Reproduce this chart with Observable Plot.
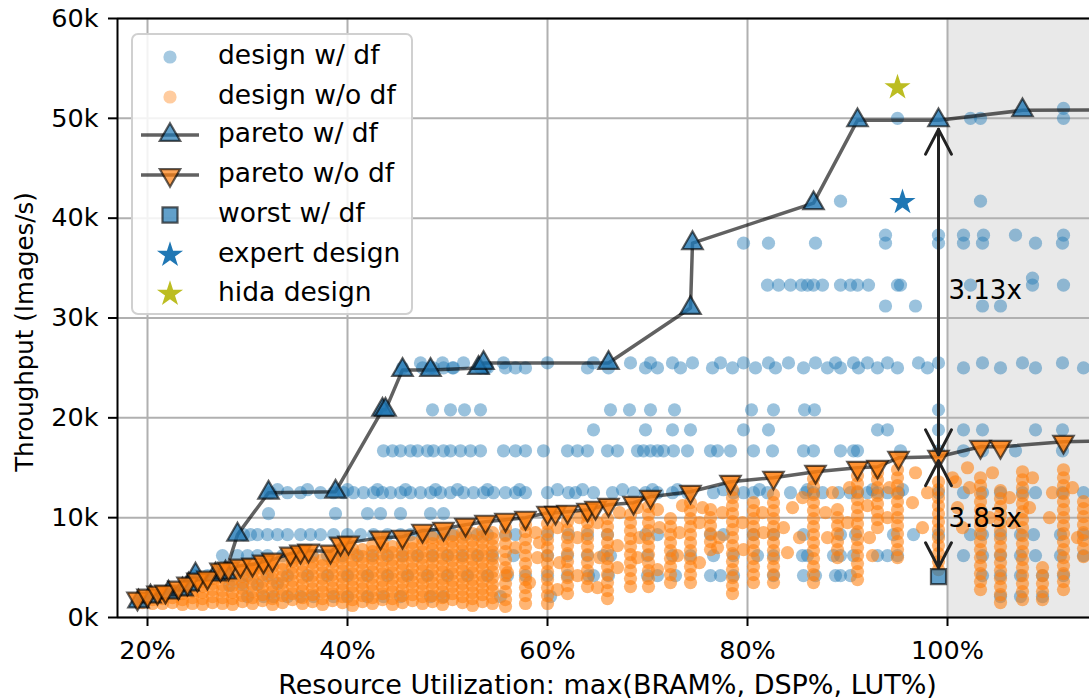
<!DOCTYPE html>
<html><head><meta charset="utf-8">
<script src="https://cdn.jsdelivr.net/npm/d3@7"></script>
<script src="https://cdn.jsdelivr.net/npm/@observablehq/plot@0.6"></script>
<style>
body{margin:0;background:#fff;font-family:"DejaVu Sans",sans-serif;}
#wrap{position:relative;width:1089px;height:698px;overflow:hidden;}
#legend{position:absolute;left:131px;top:33px;width:282px;height:282px;border:2px solid #d0d0d0;border-radius:7px;background:rgba(255,255,255,0.85);box-sizing:border-box;}
#legend .row{position:absolute;left:85px;font-size:26.5px;line-height:30px;height:30px;color:#000;white-space:nowrap;}
#legend svg{position:absolute;left:0;top:0;}
</style></head><body><div id="wrap"></div>
<script>
// ---------- data (x = resource utilisation %, y = throughput in k images/s) ----------
const xTicks = [20, 40, 60, 80, 100];
const yTicks = [0, 10, 20, 30, 40, 50, 60];
const xDomain = [17, 114.2];
const shadeStart = [100];

// blue "design w/ df": rows [throughput, [utilisations]]
const blueRows = [
  [2.1, [30, 31.6, 32.6, 34, 35.3, 36.6, 38.6, 40, 42, 43.6, 45.3, 48.3, 49.6, 55.3, 60.3, 105.3, 107.3, 109.5]],
  [4.2, [26, 27, 28.5, 30, 32, 34, 36, 38, 40, 42, 44, 46, 48, 50, 52, 54, 56, 57.8, 60, 62, 64.1, 64.6, 66.1, 70, 71, 72.8, 76.3, 77.3, 78.6, 82.6, 85.6, 86.8, 88.8, 89.3, 90.3, 103.5, 105.3, 107.3, 109.5, 111.6]],
  [6.2, [27.5, 29, 30, 31, 32, 33.5, 35, 36.5, 38, 39.5, 41, 42.5, 44, 45.5, 47, 48.5, 50, 51.5, 53, 54.5, 56.6, 60, 62, 64, 65.6, 66.3, 70, 72.5, 74.3, 76.6, 78.6, 81, 82.6, 85.5, 86, 88.6, 89.3, 90.6, 93, 94, 95, 101.6, 103.5, 105.3, 107.3, 108.8, 111.3, 113.6]],
  [8.3, [29.6, 30.3, 31, 32, 33, 34, 35.3, 36.3, 37.3, 38.6, 40, 41.3, 42.6, 44, 45.3, 46.3, 47.5, 48.6, 49.6, 50.6, 51.8, 53, 54, 55.8, 56.8, 60, 62.1, 64, 66, 69.8, 71, 76.3, 77.6, 80.6, 82.6, 85.6, 89.3, 90.8, 94.6, 96.6, 99.1, 102.3, 103.5, 105.3, 107.3, 108.6, 111.3, 113.6]],
  [10.4, [32.1, 38.8, 42.0, 43.3, 45.3, 48.3, 49.6]],
  [12.5, [32.3, 34.0, 35.3, 37.3, 38.6, 39.6, 40.6, 41.6, 42.6, 43.5, 44.3, 45.3, 46.3, 47.3, 48.3, 49.3, 50.3, 51.6, 52.6, 53.6, 54.6, 55.8, 56.8, 57.8, 60.0, 62.1, 62.8, 64.6, 66.5, 68.6, 69.8, 71.0, 72.5, 74.0, 76.6, 78.6, 79.6, 80.6, 82.0, 84.3, 85.8, 86.6, 87.5, 89.1, 90.3, 91.0, 92.0, 93.0, 94.0, 95.1, 99.1, 101.6, 103.5, 105.3, 107.5, 108.8, 111.5, 113.6]],
  [12.8, [33.0, 36.0, 40.0, 43.0, 45.8, 48.8, 51.0, 54.0, 57.2, 61.0, 63.5, 67.5, 70.5, 73.0, 77.6, 81.2, 86.0, 92.5, 95.5]],
  [16.7, [43.6, 44.5, 45.3, 46.3, 47.0, 48.0, 48.6, 49.6, 50.3, 51.3, 52.3, 53.3, 55.6, 56.8, 57.8, 59.6, 62.0, 63.0, 64.0, 66.0, 67.0, 69.0, 69.6, 70.3, 71.0, 71.6, 72.6, 74.0, 76.3, 77.0, 78.3, 80.6, 82.5, 85.6, 86.6, 89.3, 90.6, 91.0, 95.3, 99.1, 101.6, 103.5, 106.8, 111.5]],
  [18.8, [64.6, 69.8, 72.5, 74.3, 79.6, 82.1, 93.0, 94.0, 99.1, 101.6, 103.5, 108.8, 111.5]],
  [20.8, [48.5, 50.3, 51.7, 53.3, 66.3, 68.2, 70.3, 72.7, 80.4, 82.6, 85.7, 86.7, 99.1]],
  [25.0, [45.5, 47.5, 48.3, 48.6, 49.6, 50.5, 50.6, 53.3, 53.8, 54.0, 55.8, 56.8, 57.8, 64.0, 66.1, 69.8, 71.0, 73.3, 76.5, 78.5, 80.8, 82.8, 85.6, 88.0, 89.3, 91.1, 93.0, 95.0, 98.0, 101.6, 105.3, 108.8, 113.6]],
  [25.5, [47.3, 49.5, 51.6, 55.6, 60.0, 64.6, 68.3, 70.3, 72.5, 74.5, 77.3, 79.6, 82.1, 84.1, 86.8, 88.8, 90.6, 92.0, 94.0, 97.1, 99.1, 103.5, 107.5, 111.5]],
  [31.2, [93.8, 96.8, 103.5, 105.3]],
  [33.3, [82.0, 83.1, 84.3, 85.4, 86.0, 86.6, 87.5, 89.3, 90.3, 91.0, 92.1, 95.0, 95.3, 102.3, 108.5, 111.6]],
  [34.0, [108.5]],
  [37.5, [79.6, 82.1, 86.8, 93.8, 99.1, 101.6, 103.5, 108.8, 111.5]],
  [38.3, [93.8, 99.1, 101.6, 103.6, 106.8, 111.6]],
  [41.7, [89.3, 103.3]],
  [50.0, [95.0, 102.3, 103.3, 111.6]],
  [51.0, [111.6]]
];
const blueExtra = [[19.1, 1.6], [20.3, 2.1], [21.2, 2.3], [22.1, 2.5], [23.5, 2.8], [24.1, 3.3], [24.8, 4.2], [25.8, 3.8], [27.8, 4.5], [28.2, 3.2], [29.5, 3.3], [31, 3.3], [33, 3.4]];

// orange "design w/o df": columns [utilisation, [throughputs]]
const orangeCols = [
  [19.5, [1.5, 1.8]], [20.5, [1.4, 1.8, 2.1]], [21.5, [1.4, 1.9, 2.3]], [22.5, [1.5, 2.0, 2.5]],
  [23.5, [1.3, 1.8, 2.4, 2.8]], [24.5, [1.4, 2.0, 2.6, 3.2]], [25.5, [1.3, 1.9, 2.5, 3.1, 3.6]],
  [26.5, [1.5, 2.1, 2.8, 3.4, 3.9]], [27.5, [1.4, 2.0, 2.7, 3.3, 4.0, 4.5]], [28.5, [1.3, 1.9, 2.5, 3.2, 3.8, 4.4]],
  [29.5, [1.6, 2.2, 2.9, 3.5, 4.1, 4.7]], [30.5, [1.4, 2.0, 2.6, 3.3, 3.9, 4.5, 4.9]],
  [31.5, [1.7, 2.3, 3.0, 3.6, 4.3, 4.9, 5.2]], [32.5, [1.3, 1.9, 2.6, 3.2, 3.9, 4.5, 5.1]],
  [33.5, [1.5, 2.2, 2.8, 3.5, 4.1, 4.8, 5.4]], [34.5, [1.8, 2.4, 3.1, 3.7, 4.4, 5.0, 5.6, 6.0]],
  [35.5, [1.4, 2.0, 2.7, 3.3, 4.0, 4.6, 5.3, 5.9]], [36.5, [1.6, 2.3, 2.9, 3.6, 4.2, 4.9, 5.5, 6.1]],
  [37.5, [1.3, 1.9, 2.6, 3.2, 3.9, 4.5, 5.2, 5.8]], [38.5, [1.7, 2.4, 3.0, 3.7, 4.3, 5.0, 5.6, 6.1]],
  [39.5, [1.5, 2.1, 2.8, 3.4, 4.1, 4.7, 5.4, 6.0, 6.6]], [40.5, [1.2, 1.8, 2.5, 3.1, 3.8, 4.4, 5.1, 5.7, 6.4, 6.9]],
  [41.5, [1.6, 2.2, 2.9, 3.5, 4.2, 4.8, 5.5, 6.1, 6.8]], [42.5, [1.4, 2.0, 2.7, 3.3, 4.0, 4.6, 5.3, 5.9, 6.6, 7.2]],
  [43.5, [1.8, 2.4, 3.1, 3.7, 4.4, 5.0, 5.7, 6.3, 7.0, 7.4]], [44.5, [1.3, 1.9, 2.6, 3.2, 3.9, 4.5, 5.2, 5.8, 6.5, 7.1]],
  [45.5, [1.5, 2.2, 2.8, 3.5, 4.1, 4.8, 5.4, 6.1, 6.7, 7.4]], [46.5, [1.7, 2.3, 3.0, 3.6, 4.3, 4.9, 5.6, 6.2, 6.9, 7.5]],
  [47.5, [1.4, 2.1, 2.7, 3.4, 4.0, 4.7, 5.3, 6.0, 6.6, 7.3, 7.9]], [48.5, [1.6, 2.2, 2.9, 3.5, 4.2, 4.8, 5.5, 6.1, 6.8, 7.4, 8.0]],
  [49.5, [1.3, 2.0, 2.6, 3.3, 3.9, 4.6, 5.2, 5.9, 6.5, 7.2, 7.8]], [50.5, [1.8, 2.4, 3.1, 3.7, 4.4, 5.0, 5.7, 6.3, 7.0, 7.6, 8.2]],
  [51.5, [1.5, 2.1, 2.8, 3.4, 4.1, 4.7, 5.4, 6.0, 6.7, 7.3, 8.0, 8.5]], [52.5, [1.2, 1.9, 2.5, 3.2, 3.8, 4.5, 5.1, 5.8, 6.4, 7.1, 7.7, 8.4]],
  [53.5, [1.6, 2.3, 2.9, 3.6, 4.2, 4.9, 5.5, 6.2, 6.8, 7.5, 8.1, 8.7]], [54.5, [1.4, 2.0, 2.7, 3.3, 4.0, 4.6, 5.3, 5.9, 6.6, 7.2, 7.9, 8.5]],
  [55.8, [1.1, 1.8, 2.6, 3.4, 4.2, 5.0, 5.8, 6.6, 7.4, 8.2, 9.0]],
  [57.8, [1.4, 2.2, 3.0, 3.8, 4.6, 5.4, 6.2, 7.0, 7.8, 8.6, 9.3]],
  [60.0, [1.4, 2.2, 3.0, 3.8, 4.6, 5.4, 6.2, 7.0, 7.8, 8.6, 9.4]],
  [62.0, [2.4, 3.2, 4.0, 4.8, 5.6, 6.4, 7.2, 8.0, 8.8, 9.6]],
  [64.0, [3.1, 3.9, 4.7, 5.5, 6.3, 7.1, 7.9, 8.7, 9.5, 10.2]],
  [66.0, [1.9, 2.7, 3.5, 4.3, 5.1, 5.9, 6.7, 7.5, 8.3, 9.1, 9.9]],
  [68.3, [3.1, 3.9, 4.7, 5.5, 6.3, 7.1, 7.9, 8.7, 9.5, 10.3]],
  [70.1, [3.1, 3.9, 4.7, 5.5, 6.3, 7.1, 7.9, 8.7, 9.5, 10.3, 11.1]],
  [72.3, [3.5, 4.3, 5.1, 5.9, 6.7, 7.5, 8.3, 9.1, 9.9]],
  [74.3, [3.5, 4.3, 5.1, 5.9, 6.7, 7.5, 8.3, 9.1, 9.9, 10.7, 11.5]],
  [76.3, [6.8, 7.6, 8.4, 9.2, 10.0, 10.8]],
  [78.5, [2.4, 3.2, 4.0, 4.8, 5.6, 6.4, 7.2, 8.0, 8.8, 9.6, 10.4, 11.2, 12.0, 12.8]],
  [80.6, [3.5, 4.3, 5.1, 5.9, 6.7, 7.5, 8.3, 9.1, 9.9, 10.7, 11.5]],
  [82.6, [3.5, 4.3, 5.1, 5.9, 6.7, 7.5, 8.3, 9.1, 9.9, 10.7, 11.5, 12.3]],
  [86.6, [3.5, 4.3, 5.1, 5.9, 6.7, 7.5, 8.3, 9.1, 9.9, 10.7, 11.5, 12.3, 13.1, 13.9]],
  [89.0, [6.0, 6.8, 7.6, 8.4, 9.2, 10.0, 10.8]],
  [91.0, [3.8, 4.6, 5.4, 6.2, 7.0, 7.8, 8.6, 9.4, 10.2, 11.0, 11.8, 12.6, 13.4, 14.2]],
  [93.0, [9.0, 9.8, 10.6, 11.4, 12.2, 13.0, 13.8, 14.5]],
  [95.0, [6.0, 6.8, 7.6, 8.4, 9.2, 10.0, 10.8, 11.6, 12.4, 13.2, 14.0, 14.8]],
  [99.1, [4.8, 5.6, 6.4, 7.2, 8.0, 8.8, 9.6, 10.4, 11.2, 12.0, 12.8, 13.6]],
  [103.3, [2.8, 3.6, 4.4, 5.2, 6.0, 6.8, 7.6, 8.4, 9.2, 10.0, 10.8, 11.6, 12.4, 13.2, 14.0]],
  [105.3, [1.5, 2.3, 3.1, 3.9, 4.7, 5.5, 6.3, 7.1, 7.9, 8.7, 9.5, 10.3, 11.1, 11.9, 12.7]],
  [107.5, [1.8, 2.6, 3.4, 4.2, 5.0, 5.8, 6.6, 7.4, 8.2, 9.0, 9.8, 10.6, 11.4, 12.2, 13.0, 13.8, 14.6]],
  [109.5, [1.8, 2.6, 3.4, 4.2, 5.0]],
  [111.6, [2.8, 3.6, 4.4, 5.2, 6.0, 6.8, 7.6, 8.4, 9.2, 10.0, 10.8, 11.6, 12.4, 13.2, 14.0, 14.8]],
  [113.6, [6.1, 6.9, 7.7, 8.5, 9.3, 10.1, 10.9, 11.6]]
];
const orangeExtra = [[56.8, 7.0], [58.8, 8.5], [59, 6.0], [61, 9.0], [61.2, 5.5], [63, 8.0], [63.2, 10.0], [65, 9.5], [65.2, 6.0], [67.2, 10.5], [67, 7.2], [69.2, 8.0], [69, 11.0], [71.2, 9.0], [71, 10.8], [73.2, 8.5], [73.5, 11.2], [75.2, 9.5], [75.5, 11.0], [77.2, 8.0], [77.5, 10.5], [79.5, 9.5], [81.6, 8.5], [81.5, 10.5], [83.6, 9.0], [84.5, 11.0], [85.2, 8.0], [85.5, 12.0], [87.8, 10.5], [88.5, 12.5], [90, 9.5], [90.2, 13.0], [92, 11.2], [92.2, 8.0], [94, 10.0], [94.2, 13.0], [96.5, 11.5], [96.8, 14.5], [97.5, 9.0], [98, 12.5], [100.5, 14.0], [101, 11.0], [101.5, 9.0], [102.2, 13.0], [104.2, 10.0], [104.5, 14.5], [106.2, 12.0], [106.5, 9.5], [108.2, 11.0], [108.5, 14.0], [110.2, 10.0], [110.5, 12.5], [112.5, 13.0], [113, 8.0], [100.8, 13.6], [102, 15.0],
  [56.0, 4.5], [58.2, 3.5], [59.2, 7.5], [61.0, 2.8], [63.0, 4.2], [65.0, 3.0], [67.0, 5.0], [69.0, 6.0], [71.0, 4.8], [73.0, 6.2], [75.2, 5.5], [77.0, 7.0], [79.6, 6.8], [84.0, 6.5], [88.0, 8.0], [92.5, 6.2]];

// pareto fronts
const paretoDfX = [19.1, 20.3, 22.1, 23.5, 24.1, 24.8, 26.8, 27.8, 29.0, 32.1, 38.8, 43.5, 43.8, 45.5, 48.3, 53.1, 53.6, 66.1, 74.3, 74.5, 86.6, 91.0, 99.1, 107.5, 125];
const paretoDfY = [1.6, 2.1, 2.5, 2.8, 3.3, 4.3, 4.3, 4.5, 8.3, 12.5, 12.6, 20.8, 20.8, 24.8, 24.8, 25.0, 25.5, 25.5, 31.0, 37.5, 41.5, 49.8, 49.8, 50.8, 50.9];
const paretoNoDfX = [19.0, 20.0, 21.0, 21.8, 23.1, 24.0, 25.0, 26.0, 27.3, 28.1, 29.3, 30.5, 31.6, 32.5, 34.3, 35.3, 36.1, 38.3, 39.3, 40.1, 43.3, 45.5, 47.5, 49.6, 51.8, 53.8, 55.8, 57.8, 60.0, 60.8, 62.0, 64.0, 64.8, 66.1, 68.6, 70.3, 74.3, 78.3, 82.6, 86.8, 91.0, 93.0, 95.1, 99.1, 103.3, 105.3, 111.6, 125];
const paretoNoDfY = [1.9, 2.2, 2.5, 2.6, 3.0, 3.4, 3.8, 4.0, 4.8, 4.9, 5.2, 5.3, 5.6, 5.8, 6.4, 6.6, 6.7, 6.6, 7.4, 7.5, 8.0, 8.1, 8.7, 8.9, 9.3, 9.6, 9.8, 10.0, 10.5, 10.5, 10.6, 10.8, 11.0, 11.3, 11.5, 12.1, 12.6, 13.6, 14.0, 14.6, 15.0, 15.1, 16.0, 16.1, 17.1, 17.1, 17.6, 17.9];
const worstDf = [[99.1, 4.1]];
const expertDesign = [[95.5, 41.6]];
const hidaDesign = [[95.0, 53.1]];
const ratioLabels = [[100.1, 32.7, "3.13x"], [100.1, 9.9, "3.83x"]];
const xLabel = "Resource Utilization: max(BRAM%, DSP%, LUT%)";
const yLabel = "Throughput (Images/s)";
const legendLabels = ["design w/ df", "design w/o df", "pareto w/ df", "pareto w/o df", "worst w/ df", "expert design", "hida design"];

// ---------- build ----------
const blue = blueRows.flatMap(([y, xs]) => xs.map(x => ({x, y}))).concat(blueExtra.map(([x, y]) => ({x, y})));
const orange = orangeCols.flatMap(([x, ys]) => ys.map(y => ({x, y}))).concat(orangeExtra.map(([x, y]) => ({x, y})));
const pDf = paretoDfX.map((x, i) => ({x, y: paretoDfY[i]}));
const pNo = paretoNoDfX.map((x, i) => ({x, y: paretoNoDfY[i]}));
const pt = ([x, y]) => ({x, y});
const ax = worstDf[0][0];
const yTop = pDf.find(d => d.x === ax).y;
const yMid = pNo.find(d => d.x === ax).y;
const yLow = worstDf[0][1];

const C_BLUE = "#1f77b4", C_ORANGE = "#ff7f0e", C_OLIVE = "#bcbd22";
const arrowStyle = {stroke: "#222", strokeWidth: 3, headLength: 14, headAngle: 55};
const R_DOT = 6.6, R_TRI = 7.6;

const plot = Plot.plot({
  width: 1089, height: 698,
  marginLeft: 117, marginRight: 0, marginTop: 18, marginBottom: 81,
  style: {fontFamily: '"DejaVu Sans", sans-serif', fontSize: "25px", color: "#000", background: "#fff", overflow: "hidden"},
  x: {domain: xDomain, label: null},
  y: {domain: [0, 60], label: null},
  marks: [
    Plot.rect(shadeStart, {x1: d => d, x2: xDomain[1], y1: 0, y2: 60, fill: "#e9e9e9"}),
    Plot.gridX(xTicks, {stroke: "#b0b0b0", strokeOpacity: 1, strokeWidth: 2}),
    Plot.gridY(yTicks, {stroke: "#b0b0b0", strokeOpacity: 1, strokeWidth: 2}),
    Plot.dot(blue, {x: "x", y: "y", r: R_DOT, fill: C_BLUE, fillOpacity: 0.45, clip: true}),
    Plot.dot(orange, {x: "x", y: "y", r: R_DOT, fill: C_ORANGE, fillOpacity: 0.58, clip: true}),
    Plot.line(pDf, {x: "x", y: "y", stroke: "#000", strokeOpacity: 0.62, strokeWidth: 3.5, clip: true}),
    Plot.line(pNo, {x: "x", y: "y", stroke: "#000", strokeOpacity: 0.62, strokeWidth: 3.5, clip: true}),
    Plot.dot(pDf, {x: "x", y: "y", symbol: "triangle", r: R_TRI, fill: C_BLUE, fillOpacity: 0.8, stroke: "#000", strokeOpacity: 0.62, strokeWidth: 2.2, clip: true}),
    Plot.dot(pNo, {x: "x", y: "y", symbol: "triangle", rotate: 180, r: R_TRI, fill: C_ORANGE, fillOpacity: 0.85, stroke: "#000", strokeOpacity: 0.62, strokeWidth: 2.2, clip: true}),
    Plot.dot(worstDf.map(pt), {x: "x", y: "y", symbol: "square", r: 8.5, fill: C_BLUE, fillOpacity: 0.7, stroke: "#000", strokeOpacity: 0.62, strokeWidth: 2.2}),
    Plot.dot(expertDesign.map(pt), {x: "x", y: "y", symbol: "star", r: 8.2, fill: C_BLUE}),
    Plot.dot(hidaDesign.map(pt), {x: "x", y: "y", symbol: "star", r: 8.2, fill: C_OLIVE}),
    Plot.arrow([0], {x1: ax, x2: ax, y1: yMid, y2: yTop, insetEnd: 9, insetStart: 2, ...arrowStyle}),
    Plot.arrow([0], {x1: ax, x2: ax, y1: yTop, y2: yMid, insetEnd: 2, insetStart: 9, ...arrowStyle}),
    Plot.arrow([0], {x1: ax, x2: ax, y1: yLow, y2: yMid, insetEnd: 4, insetStart: 9, ...arrowStyle}),
    Plot.arrow([0], {x1: ax, x2: ax, y1: yMid, y2: yLow, insetEnd: 9, insetStart: 4, ...arrowStyle}),
    Plot.text(ratioLabels, {x: d => d[0], y: d => d[1], text: d => d[2], textAnchor: "start", fontSize: 26, fill: "#000"}),
    Plot.ruleX([xDomain[0]], {stroke: "#000", strokeWidth: 2}),
    Plot.ruleY([0, 60], {stroke: "#000", strokeWidth: 2}),
    Plot.axisX(xTicks, {tickSize: 9, tickPadding: 14, strokeWidth: 2, tickFormat: d => d + "%", fontSize: 25.5, label: null}),
    Plot.axisY(yTicks, {tickSize: 9, tickPadding: 10, strokeWidth: 2, tickFormat: d => d + "k", fontSize: 25.5, label: null}),
    Plot.text([xLabel], {frameAnchor: "bottom", dy: 76, dx: 4, text: d => d, fontSize: 27}),
    Plot.text([yLabel], {frameAnchor: "left", textAnchor: "middle", dx: -92, dy: 14, rotate: -90, text: d => d, fontSize: 24.5})
  ]
});
const wrap = document.getElementById("wrap");
wrap.appendChild(plot);

// ---------- legend ----------
const lg = document.createElement("div");
lg.id = "legend";
wrap.appendChild(lg);
const rowY = [22, 62, 100, 140, 180, 220, 259];
const sv = d3.select(lg).append("svg").attr("width", 90).attr("height", 280);
const sym = (type, r) => d3.symbol(type, Math.PI * r * r)();
const mx = 37;
sv.append("circle").attr("cx", mx).attr("cy", rowY[0]).attr("r", R_DOT).attr("fill", C_BLUE).attr("fill-opacity", 0.4);
sv.append("circle").attr("cx", mx).attr("cy", rowY[1]).attr("r", R_DOT).attr("fill", C_ORANGE).attr("fill-opacity", 0.4);
[[2, C_BLUE, 0], [3, C_ORANGE, 180]].forEach(([i, c, rot]) => {
  sv.append("line").attr("x1", 8).attr("x2", 66).attr("y1", rowY[i]).attr("y2", rowY[i]).attr("stroke", "#000").attr("stroke-opacity", 0.62).attr("stroke-width", 3.5);
  sv.append("path").attr("d", sym(d3.symbolTriangle, R_TRI)).attr("transform", `translate(${mx},${rowY[i]}) rotate(${rot})`)
    .attr("fill", c).attr("fill-opacity", 0.7).attr("stroke", "#000").attr("stroke-opacity", 0.62).attr("stroke-width", 2.2);
});
sv.append("path").attr("d", sym(d3.symbolSquare, 8.5)).attr("transform", `translate(${mx},${rowY[4]})`)
  .attr("fill", C_BLUE).attr("fill-opacity", 0.7).attr("stroke", "#000").attr("stroke-opacity", 0.62).attr("stroke-width", 2.2);
sv.append("path").attr("d", sym(d3.symbolStar, 8.2)).attr("transform", `translate(${mx},${rowY[5]})`).attr("fill", C_BLUE);
sv.append("path").attr("d", sym(d3.symbolStar, 8.2)).attr("transform", `translate(${mx},${rowY[6]})`).attr("fill", C_OLIVE);
legendLabels.forEach((t, i) => {
  const r = document.createElement("div");
  r.className = "row";
  r.style.top = (rowY[i] - 15 - 2) + "px";
  r.textContent = t;
  lg.appendChild(r);
});
</script></body></html>
